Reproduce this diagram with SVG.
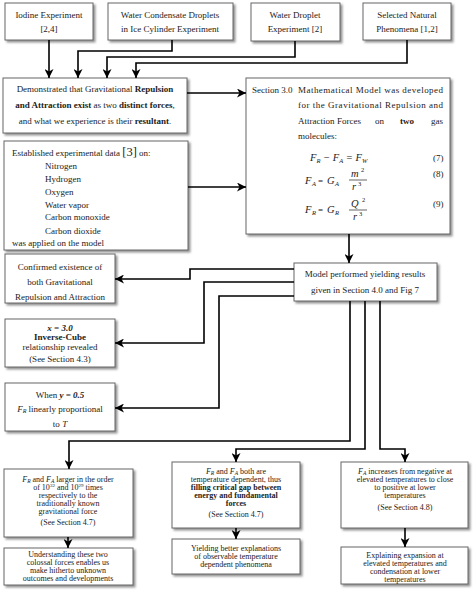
<svg xmlns="http://www.w3.org/2000/svg" width="474" height="600" viewBox="0 0 474 600">
<defs>
<filter id="sh" x="-10%" y="-10%" width="120%" height="130%">
<feDropShadow dx="2" dy="2" stdDeviation="1" flood-color="#777" flood-opacity="0.8"/>
</filter>
<marker id="ah" markerUnits="userSpaceOnUse" markerWidth="10" markerHeight="9" refX="9" refY="4.5" orient="auto">
<path d="M0,0 L9,4.5 L0,9 L2.5,4.5 z" fill="#000"/>
</marker>
</defs>
<style>
.box{fill:#fff;stroke:#666;stroke-width:1;filter:url(#sh)}
text{font-family:"Liberation Serif","DejaVu Serif",serif;font-size:9px;fill:#222}
.c{text-anchor:middle}
.s{font-size:8px}
.b{font-weight:bold}
.i{font-style:italic}
.eq{font-style:italic;font-size:10.5px}
.sub{font-size:6.5px}
.con path{fill:none;stroke:#000;stroke-width:1.6;marker-end:url(#ah)}
</style>
<rect width="474" height="600" fill="#fff"/>

<g id="n1"><rect class="box" x="5" y="3" width="88" height="37"/>
<text class="c" x="49" y="18">Iodine Experiment</text><text class="c" x="49" y="32">[2,4]</text></g>
<g id="n2"><rect class="box" x="108" y="3" width="125" height="37"/>
<text class="c" x="170" y="18">Water Condensate Droplets</text><text class="c" x="170" y="32">in Ice Cylinder Experiment</text></g>
<g id="n3"><rect class="box" x="251" y="3" width="89" height="38"/>
<text class="c" x="295" y="18">Water Droplet</text><text class="c" x="295" y="32">Experiment [2]</text></g>
<g id="n4"><rect class="box" x="363" y="3" width="88" height="37"/>
<text class="c" x="407" y="18">Selected Natural</text><text class="c" x="407" y="32">Phenomena [1,2]</text></g>

<g id="n5"><rect class="box" x="3" y="78" width="184" height="55"/>
<text class="c" x="95" y="92">Demonstrated that Gravitational <tspan class="b">Repulsion</tspan></text>
<text class="c" x="95" y="108"><tspan class="b">and Attraction exist</tspan> as two <tspan class="b">distinct forces</tspan>,</text>
<text class="c" x="95" y="124">and what we experience is their <tspan class="b">resultant</tspan>.</text></g>

<g id="n6"><rect class="box" x="4" y="141" width="184" height="109"/>
<text x="12" y="156">Established experimental data <tspan font-size="12.5">[3]</tspan> on:</text>
<text x="45" y="169">Nitrogen</text>
<text x="45" y="182">Hydrogen</text>
<text x="45" y="195">Oxygen</text>
<text x="45" y="208">Water vapor</text>
<text x="45" y="220">Carbon monoxide</text>
<text x="45" y="234">Carbon dioxide</text>
<text x="12" y="246">was applied on the model</text></g>

<g id="n7"><rect class="box" x="246" y="78" width="204" height="156"/>
<text x="252" y="93">Section 3.0</text>
<text x="298" y="93" textLength="145" lengthAdjust="spacing">Mathematical Model was developed</text>
<text x="298" y="108" textLength="145" lengthAdjust="spacing">for the Gravitational Repulsion and</text>
<text y="124"><tspan x="298">Attraction</tspan><tspan x="337">Forces</tspan><tspan x="375">on</tspan><tspan x="400" class="b">two</tspan><tspan x="431">gas</tspan></text>
<text x="298" y="139">molecules:</text>
<text class="eq" x="310" y="161">F<tspan class="sub" dy="2">R</tspan><tspan dy="-2"> − F</tspan><tspan class="sub" dy="2">A</tspan><tspan dy="-2"> = F</tspan><tspan class="sub" dy="2">W</tspan></text>
<text x="433" y="161">(7)</text>
<text class="eq" x="305" y="184">F</text><text class="eq sub" x="312" y="186">A</text>
<text x="318" y="184" font-size="10">=</text>
<text class="eq" x="327" y="184">G</text><text class="eq sub" x="335" y="186">A</text>
<text class="eq" x="351" y="177">m</text><text class="sub" x="361" y="172">2</text>
<path d="M349,180 H367" stroke="#222" stroke-width="0.7"/>
<text class="eq" x="352" y="190">r</text><text class="sub" x="358" y="186">3</text>
<text x="433" y="177">(8)</text>
<text class="eq" x="305" y="213">F</text><text class="eq sub" x="312" y="215">R</text>
<text x="318" y="213" font-size="10">=</text>
<text class="eq" x="327" y="213">G</text><text class="eq sub" x="335" y="215">R</text>
<text class="eq" x="351" y="207">Q</text><text class="sub" x="362" y="202">2</text>
<path d="M349,210 H367" stroke="#222" stroke-width="0.7"/>
<text class="eq" x="353" y="220">r</text><text class="sub" x="359" y="216">3</text>
<text x="433" y="207">(9)</text></g>

<g id="n8"><rect class="box" x="294" y="263" width="143" height="38"/>
<text class="c" x="365" y="277">Model performed yielding results</text>
<text class="c" x="365" y="293">given in Section 4.0 and Fig 7</text></g>

<g id="n9"><rect class="box" x="5" y="254" width="110" height="49"/>
<text class="c" x="60" y="270">Confirmed existence of</text>
<text class="c" x="60" y="285">both Gravitational</text>
<text class="c" x="60" y="300">Repulsion and Attraction</text></g>

<g id="n10"><rect class="box" x="5" y="319" width="110" height="48"/>
<text class="c b i" x="60" y="331">x = 3.0</text>
<text class="c b" x="60" y="340">Inverse-Cube</text>
<text class="c" x="60" y="350">relationship revealed</text>
<text class="c" x="60" y="362">(See Section 4.3)</text></g>

<g id="n11"><rect class="box" x="5" y="383" width="110" height="48"/>
<text class="c" x="60" y="398">When <tspan class="b i">y = 0.5</tspan></text>
<text class="c" x="60" y="412"><tspan class="i">F</tspan><tspan class="i" font-size="6" dy="1">R</tspan><tspan dy="-1"> linearly proportional</tspan></text>
<text class="c" x="60" y="427">to <tspan class="i">T</tspan></text></g>

<g id="n12"><rect class="box" x="4" y="469" width="129" height="68"/>
<text class="c s" x="68" y="482"><tspan class="i">F</tspan><tspan class="i" font-size="5.5" dy="1">R</tspan><tspan dy="-1"> and </tspan><tspan class="i">F</tspan><tspan class="i" font-size="5.5" dy="1">A</tspan><tspan dy="-1"> larger in the order</tspan></text>
<text class="c s" x="68" y="490">of 10<tspan font-size="5" dy="-3">32</tspan><tspan dy="3"> and 10</tspan><tspan font-size="5" dy="-3">29</tspan><tspan dy="3"> times</tspan></text>
<text class="c s" x="68" y="498">respectively to the</text>
<text class="c s" x="68" y="506">traditionally known</text>
<text class="c s" x="68" y="514">gravitational force</text>
<text class="c s" x="68" y="525">(See Section 4.7)</text></g>

<g id="n13"><rect class="box" x="4" y="548" width="129" height="37"/>
<text class="c s" x="68" y="557">Understanding these two</text>
<text class="c s" x="68" y="565">colossal forces enables us</text>
<text class="c s" x="68" y="573">make hitherto unknown</text>
<text class="c s" x="68" y="581">outcomes and developments</text></g>

<g id="n14"><rect class="box" x="172" y="462" width="128" height="66"/>
<text class="c s" x="236" y="474"><tspan class="i">F</tspan><tspan class="i" font-size="5.5" dy="1">R</tspan><tspan dy="-1"> and </tspan><tspan class="i">F</tspan><tspan class="i" font-size="5.5" dy="1">A</tspan><tspan dy="-1"> both are</tspan></text>
<text class="c s" x="236" y="482">temperature dependent, thus</text>
<text class="c s b" x="236" y="490">filling critical gap between</text>
<text class="c s b" x="236" y="498">energy and fundamental</text>
<text class="c s b" x="236" y="506">forces</text>
<text class="c s" x="236" y="517">(See Section 4.7)</text></g>

<g id="n15"><rect class="box" x="172" y="539" width="128" height="35"/>
<text class="c s" x="236" y="551">Yielding better explanations</text>
<text class="c s" x="236" y="559">of observable temperature</text>
<text class="c s" x="236" y="567">dependent phenomena</text></g>

<g id="n16"><rect class="box" x="341" y="462" width="127" height="66"/>
<text class="c s" x="405" y="474"><tspan class="i">F</tspan><tspan class="i" font-size="5.5" dy="1">A</tspan><tspan dy="-1"> increases from negative at</tspan></text>
<text class="c s" x="405" y="482">elevated temperatures to close</text>
<text class="c s" x="405" y="490">to positive at lower</text>
<text class="c s" x="405" y="498">temperatures</text>
<text class="c s" x="405" y="510">(See Section 4.8)</text></g>

<g id="n17"><rect class="box" x="341" y="547" width="127" height="37"/>
<text class="c s" x="405" y="558">Explaining expansion at</text>
<text class="c s" x="405" y="566">elevated temperatures and</text>
<text class="c s" x="405" y="574">condensation at lower</text>
<text class="c s" x="405" y="582">temperatures</text></g>

<g id="connectors" class="con">
<path d="M49,40 V78"/>
<path d="M172,40 V51 H78 V78"/>
<path d="M295,41 V57 H107 V78"/>
<path d="M407,40 V63 H136 V78"/>
<path d="M187,93 H246"/>
<path d="M188,187 H246"/>
<path d="M349,234 V263"/>
<path d="M294,269 H190 V279 H115"/>
<path d="M294,282 H204 V343 H115"/>
<path d="M294,296 H219 V408 H115"/>
<path d="M350,301 V441 H69 V469"/>
<path d="M365,301 V449 H236 V462"/>
<path d="M380,301 V449 H405 V462"/>
<path d="M68,537 V548"/>
<path d="M236,528 V539"/>
<path d="M405,528 V547"/>
</g>
</svg>
